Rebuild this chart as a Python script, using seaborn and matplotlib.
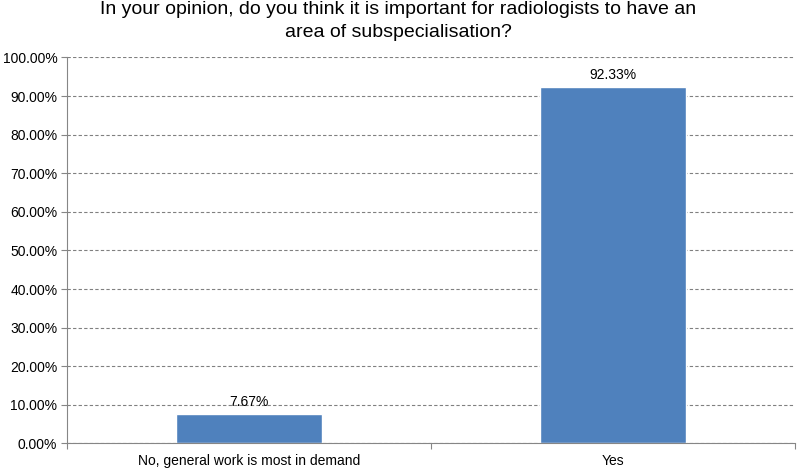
import numpy as np
import pandas as pd
import seaborn as sns
import matplotlib.pyplot as plt
from matplotlib.ticker import FuncFormatter, FixedLocator

categories = ['No, general work is most in demand', 'Yes']
values = [7.67, 92.33]

df = pd.DataFrame({'answer': categories, 'pct': values})

sns.set_style('white')
plt.rcParams['font.family'] = ['Liberation Sans', 'DejaVu Sans']
plt.rcParams['text.color'] = 'black'
plt.rcParams['xtick.color'] = 'black'
plt.rcParams['ytick.color'] = 'black'

fig = plt.figure(figsize=(7.97, 4.70), dpi=100)
ax = fig.add_axes([0.0841, 0.0564, 0.9134, 0.8213])

sns.barplot(data=df, x='answer', y='pct', color='#4F81BD', saturation=1, width=0.4, ax=ax)

ax.set_xlim(-0.5, 1.5)
ax.set_ylim(0, 100)
ax.set_yticks(np.arange(0, 101, 10))
ax.yaxis.set_major_formatter(FuncFormatter(lambda v, p: f'{v:.2f}%'))
ax.grid(axis='y', linestyle=(0, (3, 2)), color='#808080', linewidth=0.8)
ax.set_axisbelow(True)
ax.set_xlabel('')
ax.set_ylabel('')

for s in ['top', 'right']:
    ax.spines[s].set_visible(False)
for s in ['left', 'bottom']:
    ax.spines[s].set_color('#868686')
    ax.spines[s].set_linewidth(0.8)

# category boundary ticks on the x axis
ax.xaxis.set_minor_locator(FixedLocator([-0.5, 0.5, 1.5]))
ax.tick_params(axis='x', which='minor', bottom=True, length=4, color='#868686', width=0.8)
ax.tick_params(axis='x', which='major', bottom=False, labelsize=10, pad=4)
ax.tick_params(axis='y', which='major', left=True, length=4, color='#868686', width=0.8, labelsize=10, pad=3)

for i, v in enumerate(values):
    ax.annotate(f'{v:.2f}%', (i, v), xytext=(0, 5.5), textcoords='offset points',
                ha='center', va='baseline', fontsize=10)

fig.suptitle('In your opinion, do you think it is important for radiologists to have an\narea of subspecialisation?',
             fontsize=14, y=0.998, va='top', linespacing=1.45)

fig.savefig('out.png', dpi=100)
